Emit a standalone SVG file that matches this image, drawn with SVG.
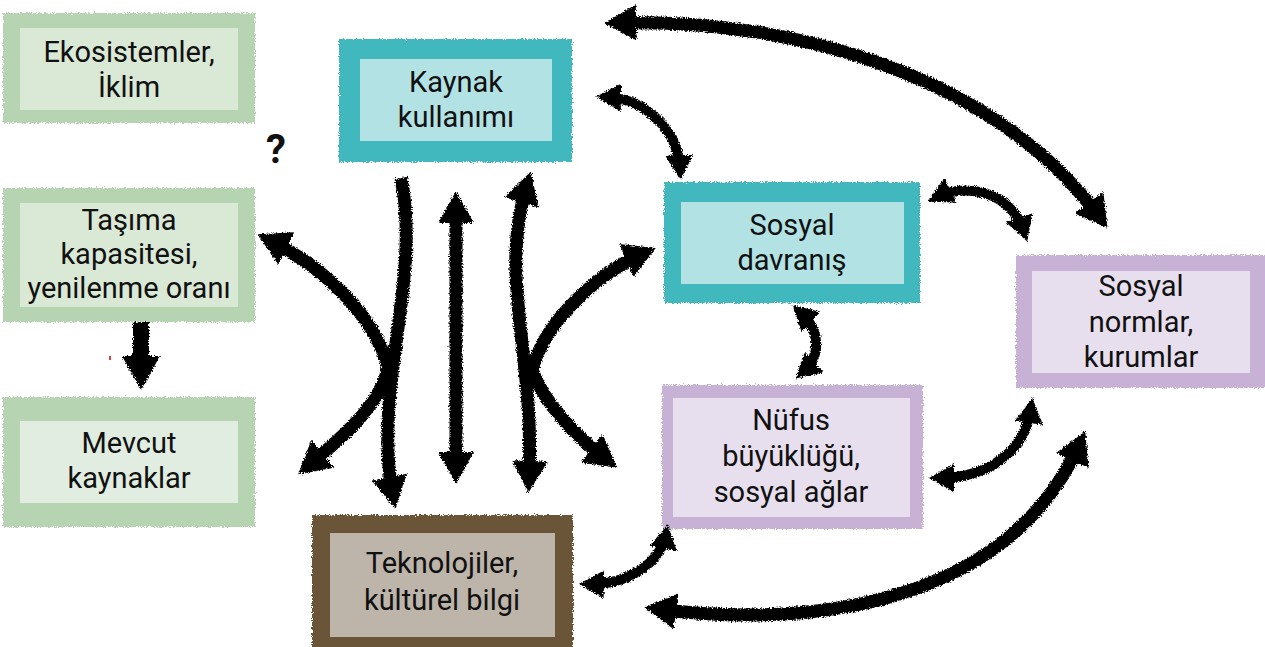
<svg xmlns="http://www.w3.org/2000/svg" width="1265" height="647" viewBox="0 0 1265 647">
<defs>
<filter id="rough" x="-5%" y="-5%" width="110%" height="110%">
<feTurbulence type="fractalNoise" baseFrequency="0.9" numOctaves="2" seed="3" result="n"/>
<feDisplacementMap in="SourceGraphic" in2="n" scale="5" xChannelSelector="R" yChannelSelector="G"/>
</filter>
<filter id="chalk" x="-10%" y="-10%" width="120%" height="120%">
<feTurbulence type="fractalNoise" baseFrequency="0.8" numOctaves="2" seed="7" result="n"/>
<feDisplacementMap in="SourceGraphic" in2="n" scale="5" xChannelSelector="R" yChannelSelector="G"/>
</filter>
<marker id="hb" viewBox="0 0 10 10" refX="6" refY="5" markerUnits="userSpaceOnUse" markerWidth="32" markerHeight="36" orient="auto-start-reverse" preserveAspectRatio="none">
<path d="M0,0 L10,5 L0,10 z" fill="#000"/>
</marker>
<marker id="hs" viewBox="0 0 10 10" refX="6" refY="5" markerUnits="userSpaceOnUse" markerWidth="25" markerHeight="28" orient="auto-start-reverse" preserveAspectRatio="none">
<path d="M0,0 L10,5 L0,10 z" fill="#000"/>
</marker>
</defs>
<style>
text{font-family:Roboto,"Liberation Sans",sans-serif;font-size:29px;fill:#111;text-anchor:middle}
.g{fill:#b6d4b1}.gi{fill:#dae8d6}.gi2{fill:#e1ede0}
.t{fill:#40b8bd}.ti{fill:#b2e2e4}
.p{fill:#c7b2d6}.pi{fill:#e7dfee}
.b{fill:#6b5437}.bi{fill:#bdb4aa}
.o{filter:url(#rough)}
.a{fill:none;stroke:#000;stroke-width:13;stroke-linecap:butt}
.s{fill:none;stroke:#000;stroke-width:10;stroke-linecap:butt}
</style>
<rect width="1265" height="647" fill="#fff"/>

<g id="ekosistemler">
<rect class="g o" x="3" y="13" width="252" height="110"/>
<rect class="gi" x="20" y="28" width="218" height="82"/>
<text x="129" y="62">Ekosistemler,</text>
<text x="129" y="97">İklim</text>
</g>

<g id="tasima">
<rect class="g o" x="3" y="188" width="252" height="134"/>
<rect class="gi" x="20" y="203" width="218" height="104"/>
<text x="129" y="230">Taşıma</text>
<text x="129" y="264">kapasitesi,</text>
<text x="129" y="298">yenilenme oranı</text>
</g>

<g id="mevcut">
<rect class="g o" x="3" y="397" width="252" height="130"/>
<rect class="gi2" x="20" y="421" width="218" height="82"/>
<text x="129" y="453">Mevcut</text>
<text x="129" y="488">kaynaklar</text>
</g>

<g id="kaynak">
<rect class="t o" x="339" y="39" width="233" height="123"/>
<rect class="ti" x="360" y="59" width="192" height="82"/>
<text x="456" y="92">Kaynak</text>
<text x="456" y="127">kullanımı</text>
</g>

<g id="davranis">
<rect class="t o" x="664" y="182" width="256" height="121"/>
<rect class="ti" x="681" y="202" width="223" height="82"/>
<text x="792" y="235">Sosyal</text>
<text x="792" y="270">davranış</text>
</g>

<g id="normlar">
<rect class="p o" x="1016" y="255" width="252" height="133"/>
<rect class="pi" x="1032" y="271" width="218" height="102"/>
<text x="1141" y="296">Sosyal</text>
<text x="1141" y="332">normlar,</text>
<text x="1141" y="367">kurumlar</text>
</g>

<g id="nufus">
<rect class="p o" x="662" y="385" width="261" height="144"/>
<rect class="pi" x="673" y="398" width="237" height="119"/>
<text x="791" y="430">Nüfus</text>
<text x="791" y="466">büyüklüğü,</text>
<text x="791" y="502">sosyal ağlar</text>
</g>

<g id="teknoloji">
<rect class="b o" x="312" y="515" width="261" height="135"/>
<rect class="bi" x="330" y="533" width="225" height="104"/>
<text x="442" y="573">Teknolojiler,</text>
<text x="442" y="610">kültürel bilgi</text>
</g>

<text x="276" y="163" style="font-weight:bold;font-size:40px">?</text>

<g id="connectors" filter="url(#chalk)">
<polygon points="133,322 149,322 149,356 160,356 141,390 122,356 133,356" fill="#000"/>
<path class="a" d="M617,23 C800,18 1000,80 1100,218" marker-start="url(#hb)" marker-end="url(#hb)"/>
<path class="s" d="M606,97 C640,98 678,125 680,170" marker-start="url(#hs)" marker-end="url(#hs)"/>
<path class="s" d="M937,197 C965,183 1010,190 1024,232" marker-start="url(#hs)" marker-end="url(#hs)"/>
<path class="s" d="M800,312 C820,330 822,355 803,372" marker-start="url(#hs)" marker-end="url(#hs)"/>
<path class="s" d="M939,478 C990,478 1025,450 1031,408" marker-start="url(#hs)" marker-end="url(#hs)"/>
<path class="a" d="M657,609 C820,630 1010,600 1080,443" marker-start="url(#hb)" marker-end="url(#hb)"/>
<path class="s" d="M666,534 C660,565 625,585 589,584" marker-start="url(#hs)" marker-end="url(#hs)"/>
<path class="a" d="M456,204 L456,471" marker-start="url(#hb)" marker-end="url(#hb)"/>
<path class="a" d="M401,178 C422,280 372,390 393,496" marker-end="url(#hb)"/>
<path class="a" d="M269,240 C322,266 375,315 388,368 C380,405 342,438 308,466" marker-start="url(#hb)" marker-end="url(#hb)"/>
<path class="a" d="M527,184 C498,280 535,350 529,480" marker-start="url(#hb)" marker-end="url(#hb)"/>
<path class="a" d="M644,253 C600,272 545,320 532,370 C545,405 578,438 607,460" marker-start="url(#hb)" marker-end="url(#hb)"/>
</g>
<rect x="109" y="356" width="2" height="4" fill="#e04040"/>
</svg>
